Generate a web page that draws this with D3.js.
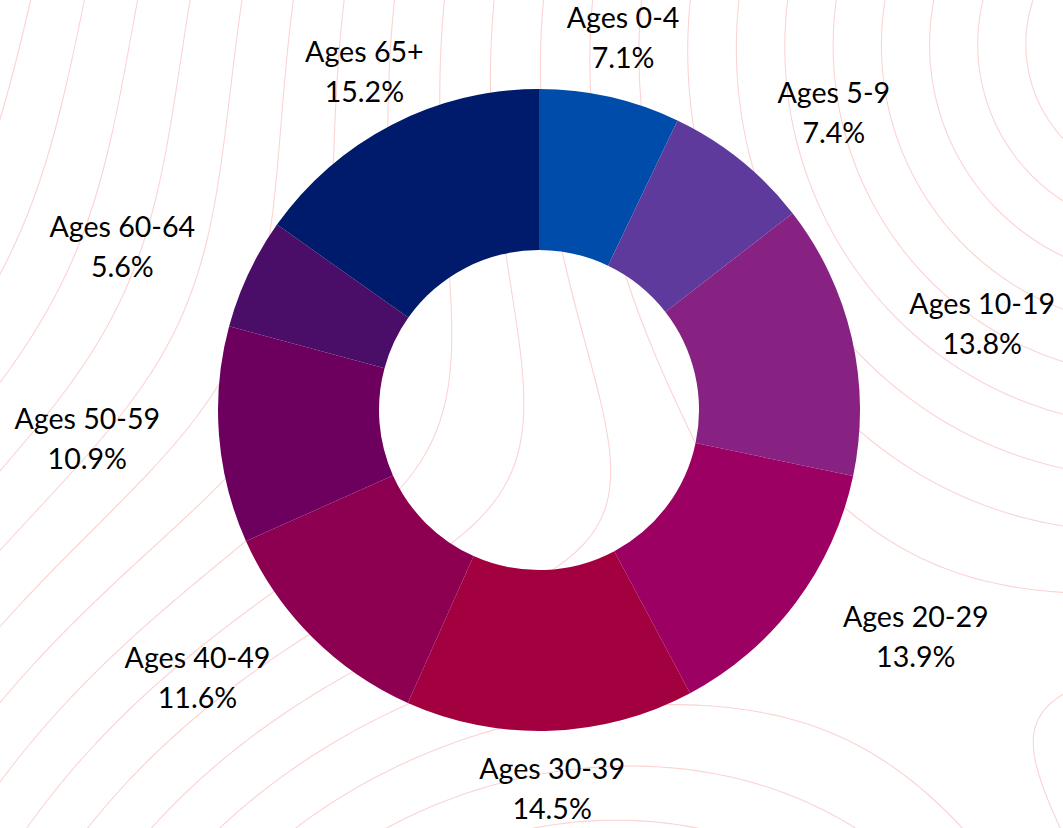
<!DOCTYPE html>
<html>
<head>
<meta charset="utf-8">
<script src="https://cdn.jsdelivr.net/npm/d3@7"></script>
<style>
  html, body { margin: 0; padding: 0; background: #fff; }
  #chart { width: 1063px; height: 828px; overflow: hidden; }
  svg { display: block; font-family: Lato, "Open Sans", sans-serif; }
</style>
</head>
<body>
<div id="chart"></div>
<script>
// categories and shares (percent)
const categories = ['Ages 0-4', 'Ages 5-9', 'Ages 10-19', 'Ages 20-29', 'Ages 30-39',
  'Ages 40-49', 'Ages 50-59', 'Ages 60-64', 'Ages 65+']
const shares = [7.1, 7.4, 13.8, 13.9, 14.5, 11.6, 10.9, 5.6, 15.2]
const colors = ['#004caa', '#5e3a9d', '#872282', '#9c0063', '#a3003f',
  '#8d0051', '#6d005f', '#4a0e69', '#001a6c']

const Width = 1063, Height = 828
const cx = 539, cy = 410
const outerR = 321, innerR = 160
const labelR = 380

const svg = d3.select('#chart').append('svg')
  .attr('width', Width)
  .attr('height', Height)

// 背景等高线 (decorative only)
const bg = svg.append('g').attr('class', 'bg')
  .attr('transform', 'translate(-60, -60)')
const step = 8
const nx = Math.ceil((Width + 120) / step), ny = Math.ceil((Height + 120) / step)
const field = new Array(nx * ny)
const A = [1160, 40], C = [600, 1250]
const s = 170
for (let j = 0; j < ny; j++) {
  for (let i = 0; i < nx; i++) {
    const x = i * step - 60, y = j * step - 60
    const dA = Math.hypot(x - A[0], y - A[1])
    const dC = Math.hypot(x - C[0], y - C[1])
    field[j * nx + i] = -s * Math.log(Math.exp(-dA / s) + Math.exp(-dC / s))
  }
}
const contours = d3.contours()
  .size([nx, ny])
  .smooth(true)
  .thresholds(d3.range(90, 1400, 48))(field)
bg.selectAll('path')
  .data(contours)
  .enter()
  .append('path')
  .attr('d', d3.geoPath(d3.geoIdentity().scale(step)))
  .attr('fill', 'none')
  .attr('stroke', '#fcd3d3')
  .attr('stroke-width', 1.1)

// 饼图
const pie = d3.pie().sort(null).value(d => d)
const arcs = pie(shares)
const arc = d3.arc().innerRadius(innerR).outerRadius(outerR)

const g = svg.append('g').attr('transform', `translate(${cx}, ${cy})`)

g.selectAll('path.slice')
  .data(arcs)
  .enter()
  .append('path')
  .attr('class', 'slice')
  .attr('d', arc)
  .attr('fill', (d, i) => colors[i])

// 标签
const labels = g.selectAll('g.label')
  .data(arcs)
  .enter()
  .append('g')
  .attr('class', 'label')

labels.each(function (d, i) {
  const a = (d.startAngle + d.endAngle) / 2
  const x = labelR * Math.sin(a)
  const y = -labelR * Math.cos(a)
  const sn = Math.sin(a)
  const side = Math.abs(sn) < 0.5 ? 0 : (sn > 0 ? 1 : -1)
  const lab = d3.select(this)
  const t1 = lab.append('text')
    .attr('y', y - 11)
    .attr('text-anchor', 'middle')
    .style('font-size', '28.6px')
    .style('fill', '#000')
    .text(categories[i])
  const t2 = lab.append('text')
    .attr('y', y + 29)
    .attr('text-anchor', 'middle')
    .style('font-size', '28.6px')
    .style('fill', '#000')
    .text(shares[i].toFixed(1) + '%')
  const w = Math.max(t1.node().getComputedTextLength(), t2.node().getComputedTextLength())
  const mx = x + side * w / 2
  t1.attr('x', mx)
  t2.attr('x', mx)
})
</script>
</body>
</html>
